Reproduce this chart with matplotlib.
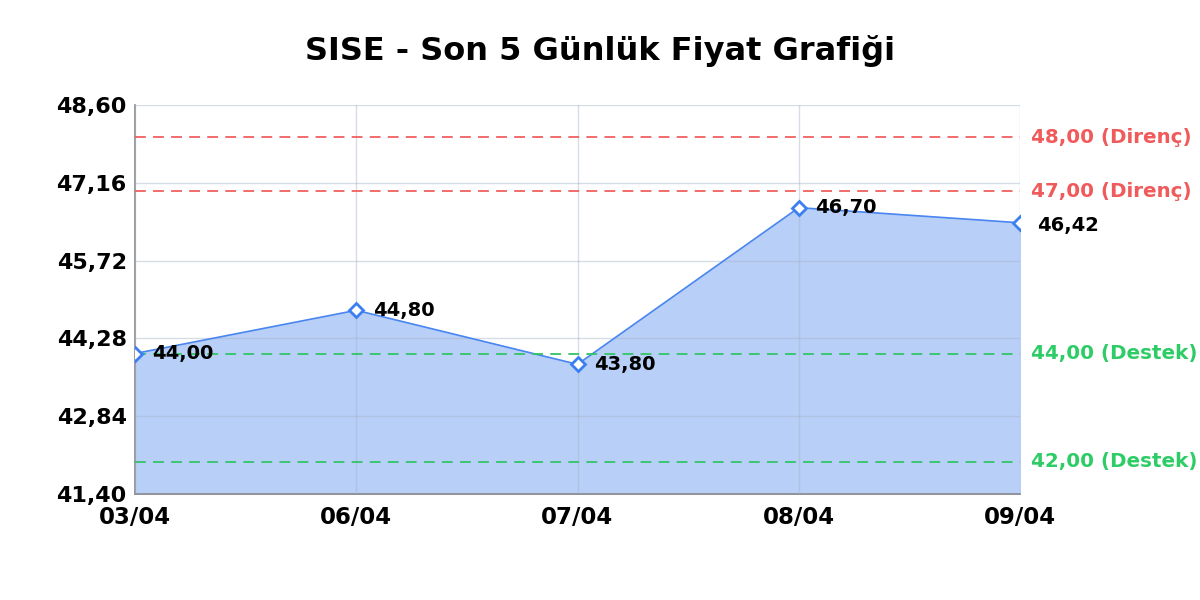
# SISE - son 5 gunluk fiyat grafigi
import numpy as np
import matplotlib
matplotlib.use('Agg')
import matplotlib.pyplot as plt

plt.rcParams['font.family'] = ['DejaVu Sans']

# Data
dates = ['03/04', '06/04', '07/04', '08/04', '09/04']
prices = [44.00, 44.80, 43.80, 46.70, 46.42]
resistance = [48.00, 47.00]
support = [44.00, 42.00]
y_ticks = [41.40, 42.84, 44.28, 45.72, 47.16, 48.60]

def tr(v):
    return '{:.2f}'.format(v).replace('.', ',')

fig = plt.figure(figsize=(12, 6), dpi=100)
ax = fig.add_axes([0.1125, 0.1767, 0.7375, 0.6483])

x = np.arange(len(dates))
ax.fill_between(x, prices, y_ticks[0], color='#b8cff8', zorder=1)
ax.plot(x, prices, color='#4a86f0', lw=1.2, zorder=3)
ax.plot(x, prices, ls='none', marker='D', ms=7.5, mfc='white', mec='#3b7ff0',
        mew=2, zorder=5)

# support / resistance lines
for r in resistance:
    ax.axhline(r, color='#f06060', ls=(0, (6, 4)), lw=1.3, zorder=4)
    ax.text(1.012, r, tr(r) + ' (Direnç)', transform=ax.get_yaxis_transform(),
            color='#f05a5a', fontsize=14.3, fontweight='bold', va='center')
for s in support:
    ax.axhline(s, color='#33c466', ls=(0, (6, 4)), lw=1.3, zorder=4)
    ax.text(1.012, s, tr(s) + ' (Destek)', transform=ax.get_yaxis_transform(),
            color='#2ecc66', fontsize=14.3, fontweight='bold', va='center')

# value labels
for i, p in enumerate(prices):
    dy = -0.05 if i == len(prices) - 1 else 0
    ax.annotate(tr(p), (x[i], p + dy), xytext=(12, 0), textcoords='offset points',
                fontsize=14, fontweight='bold', va='center', ha='left', zorder=6,
                annotation_clip=False)

ax.set_xlim(0, len(dates) - 1)
ax.set_ylim(y_ticks[0], y_ticks[-1])
ax.set_xticks(x)
ax.set_xticklabels(dates, fontsize=16.5, fontweight='bold')
ax.set_yticks(y_ticks)
ax.set_yticklabels([tr(v) for v in y_ticks], fontsize=16, fontweight='bold')
ax.tick_params(axis='y', length=0, pad=6)
ax.tick_params(axis='x', length=0, pad=9)
ax.grid(True, color='#a8b4c8', alpha=0.45, lw=1, zorder=2)
ax.set_axisbelow(False)

for side in ['top', 'right']:
    ax.spines[side].set_visible(False)
for side in ['left', 'bottom']:
    ax.spines[side].set_color('#888888')
    ax.spines[side].set_linewidth(1.2)

fig.suptitle('SISE - Son 5 Günlük Fiyat Grafiği', fontsize=23, fontweight='bold',
             y=0.915, va='center')

fig.savefig('out.png', dpi=100)
